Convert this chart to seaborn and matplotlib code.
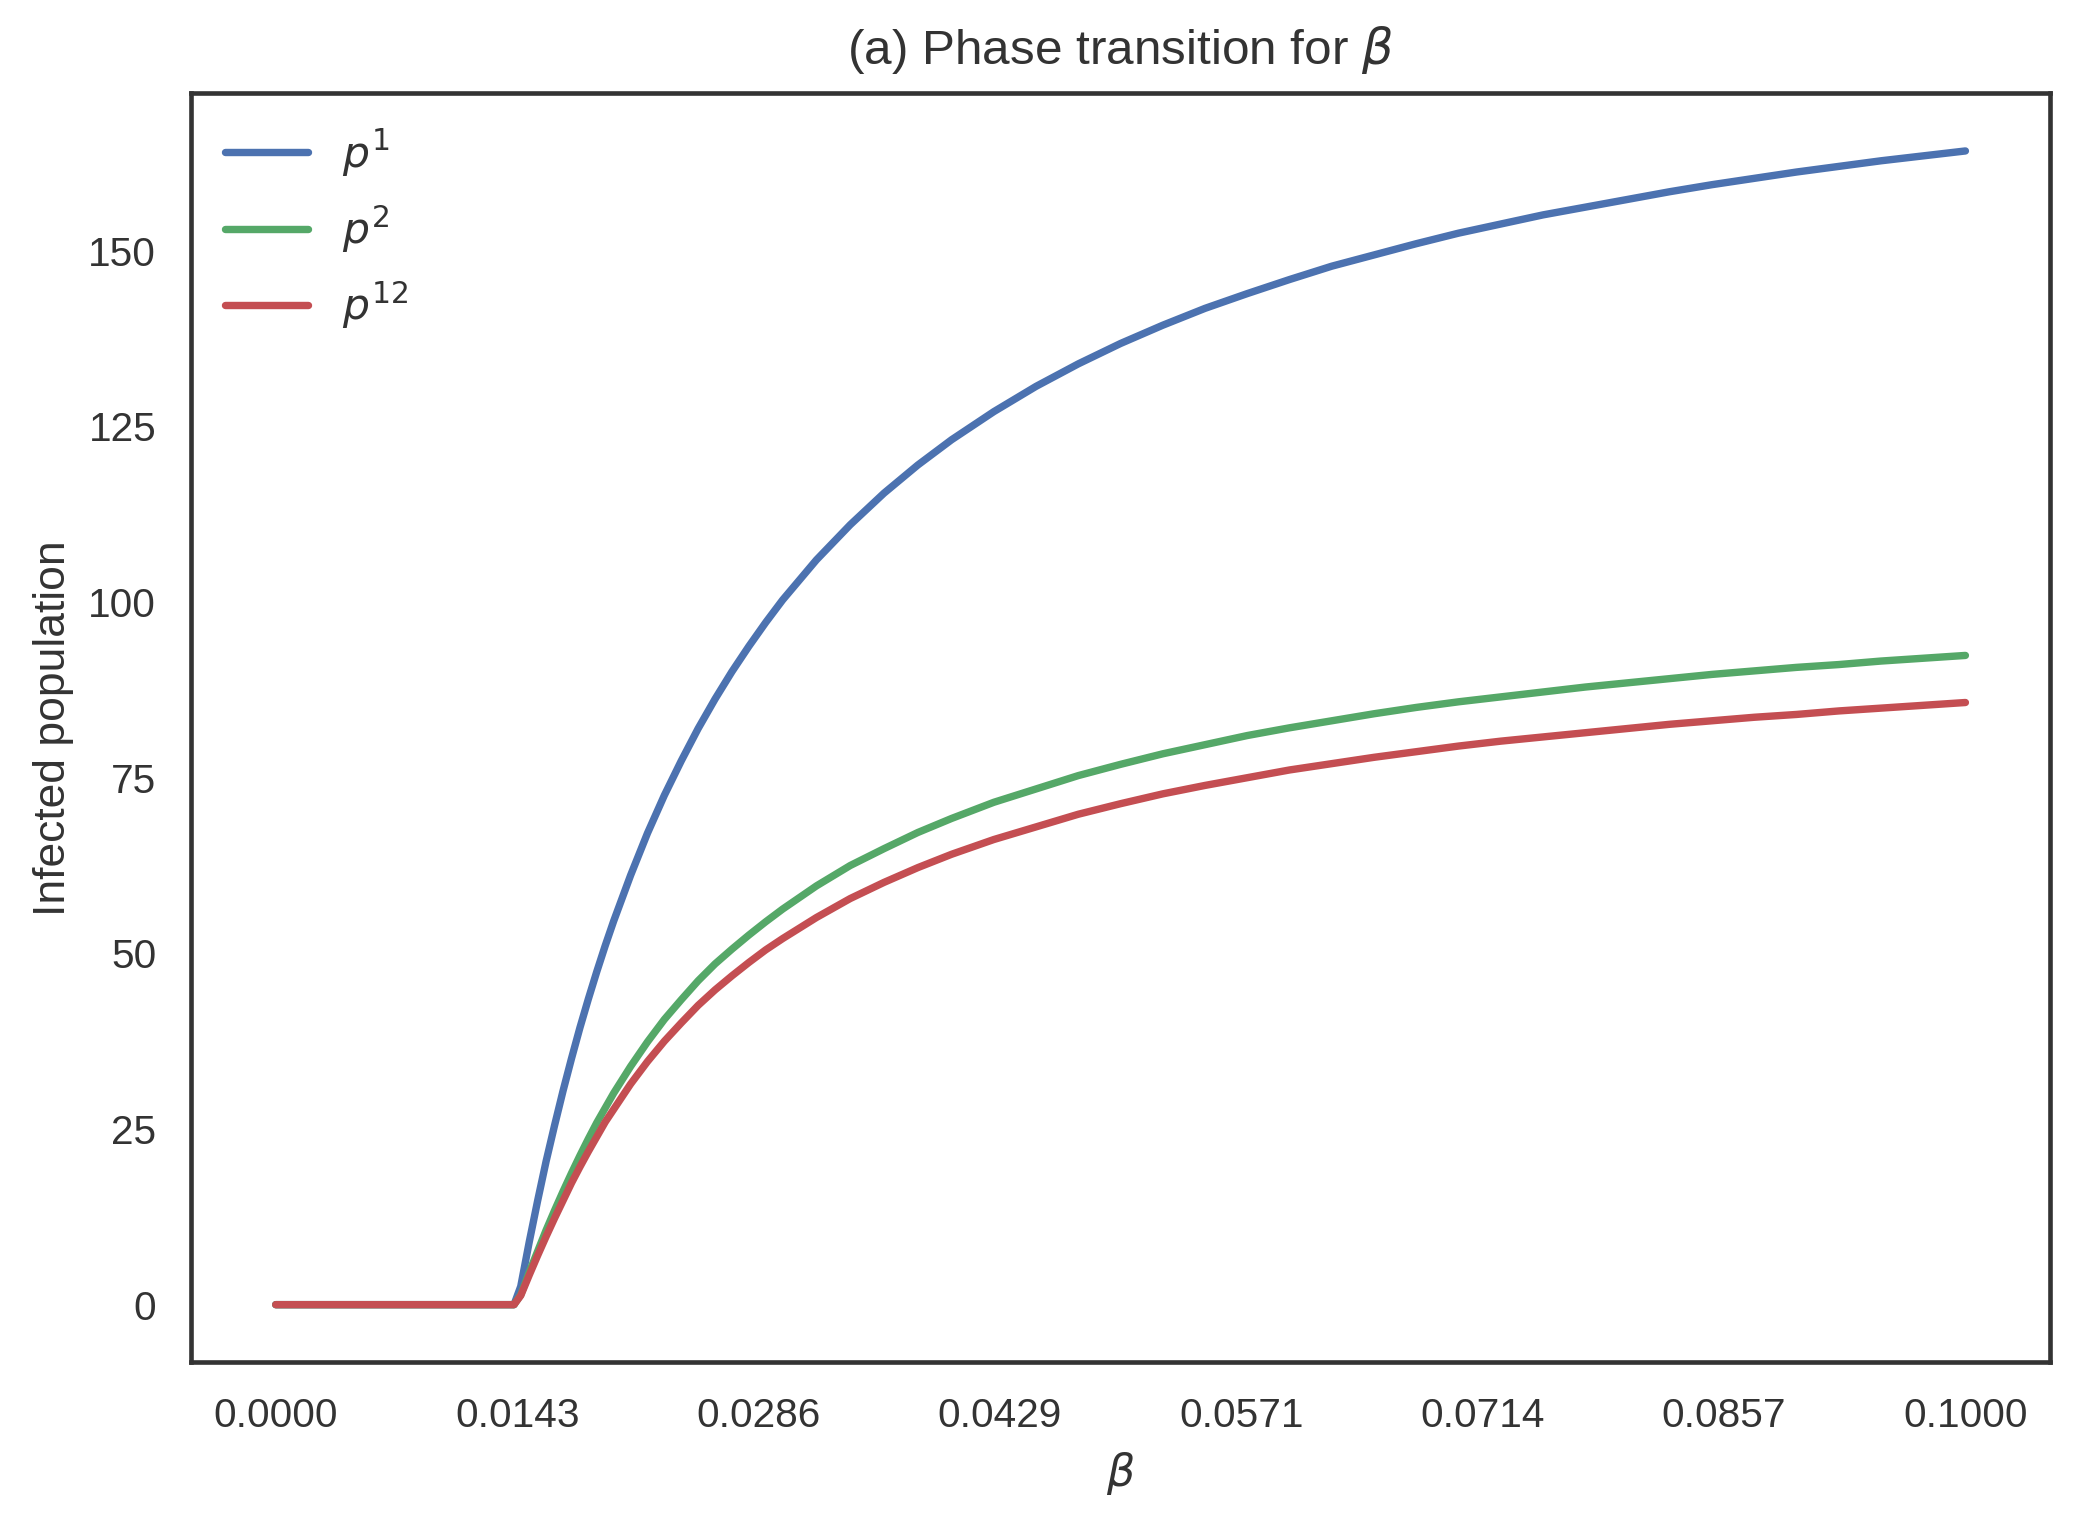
import matplotlib
matplotlib.use("Agg")
import matplotlib.pyplot as plt
import numpy as np
import seaborn as sns

# values
BETA = [0.0000, 0.0141, 0.0145, 0.0150, 0.0155, 0.0160, 0.0165, 0.0170,
        0.0175, 0.0180, 0.0185, 0.0190, 0.0195, 0.0200, 0.0210, 0.0220,
        0.0230, 0.0240, 0.0250, 0.0260, 0.0270, 0.0280, 0.0290, 0.0300,
        0.0320, 0.0340, 0.0360, 0.0380, 0.0400, 0.0425, 0.0450, 0.0475,
        0.0500, 0.0525, 0.0550, 0.0575, 0.0600, 0.0625, 0.0650, 0.0675,
        0.0700, 0.0725, 0.0750, 0.0775, 0.0800, 0.0825, 0.0850, 0.0875,
        0.0900, 0.0925, 0.0950, 0.0975, 0.1000]
P1 = [0.0, 0.0, 2.6, 8.9, 14.8, 20.4, 25.5, 30.4,
      35.0, 39.4, 43.5, 47.4, 51.1, 54.6, 61.1, 67.1,
      72.5, 77.4, 82.0, 86.2, 90.1, 93.7, 97.1, 100.3,
      106.0, 111.0, 115.5, 119.5, 123.1, 127.1, 130.7, 133.9,
      136.8, 139.4, 141.8, 143.9, 145.9, 147.8, 149.4, 151.0,
      152.5, 153.8, 155.1, 156.2, 157.3, 158.4, 159.4, 160.3,
      161.2, 162.0, 162.8, 163.5, 164.2]
P2 = [0.0, 0.0, 1.4, 4.6, 7.6, 10.6, 13.4, 16.1,
      18.7, 21.2, 23.6, 25.9, 28.0, 30.1, 33.9, 37.4,
      40.6, 43.4, 46.1, 48.5, 50.6, 52.6, 54.5, 56.3,
      59.6, 62.5, 64.9, 67.2, 69.2, 71.5, 73.4, 75.3,
      76.9, 78.4, 79.7, 81.0, 82.1, 83.1, 84.1, 85.0,
      85.8, 86.5, 87.2, 87.9, 88.5, 89.1, 89.7, 90.2,
      90.7, 91.1, 91.6, 92.0, 92.4]
P12 = [0.0, 0.0, 1.3, 4.2, 7.0, 9.7, 12.3, 14.8,
       17.3, 19.6, 21.8, 23.9, 26.0, 27.8, 31.4, 34.6,
       37.5, 40.1, 42.6, 44.8, 46.8, 48.7, 50.5, 52.1,
       55.1, 57.8, 60.1, 62.2, 64.1, 66.2, 68.0, 69.8,
       71.3, 72.7, 73.9, 75.0, 76.1, 77.0, 77.9, 78.7,
       79.5, 80.2, 80.8, 81.4, 82.0, 82.6, 83.1, 83.6,
       84.0, 84.5, 84.9, 85.3, 85.7]
LABELS = ["$p^1$", "$p^2$", "$p^{12}$"]
Y_TICKS = [0, 25, 50, 75, 100, 125, 150]
X_TICKS = np.linspace(0, 0.1, 8)

sns.set_theme(style="white", context="notebook")
plt.rcParams["font.family"] = ["Liberation Sans", "DejaVu Sans"]
plt.rcParams["axes.edgecolor"] = "#333333"
plt.rcParams["text.color"] = "#333333"
plt.rcParams["axes.labelcolor"] = "#333333"
plt.rcParams["xtick.color"] = "#333333"
plt.rcParams["ytick.color"] = "#333333"

deep = sns.color_palette("deep")
colors = [deep[0], deep[2], deep[3]]

fig, ax = plt.subplots(figsize=(2079 / 266, 1529 / 266), dpi=266)
fig.subplots_adjust(left=0.092, right=0.986, top=0.939, bottom=0.109)

for series, label, c in zip([P1, P2, P12], LABELS, colors):
    sns.lineplot(x=BETA, y=series, ax=ax, color=c, label=label,
                 linewidth=2.0, solid_capstyle="round", estimator=None)

ax.set_xticks(X_TICKS)
ax.set_xticklabels([f"{t:.4f}" for t in X_TICKS])
ax.set_yticks(Y_TICKS)
ax.set_title("(a) Phase transition for $\\beta$", fontsize=13.4, pad=8)
ax.set_xlabel("$\\beta$", fontsize=12)
ax.set_ylabel("Infected population", fontsize=12)
for s in ax.spines.values():
    s.set_linewidth(1.25)
ax.legend(loc="upper left", frameon=False, fontsize=11.5,
          handlelength=1.95, labelspacing=0.58, borderaxespad=0.4)

fig.savefig("out.png", dpi=266, facecolor="white")
plt.close(fig)
